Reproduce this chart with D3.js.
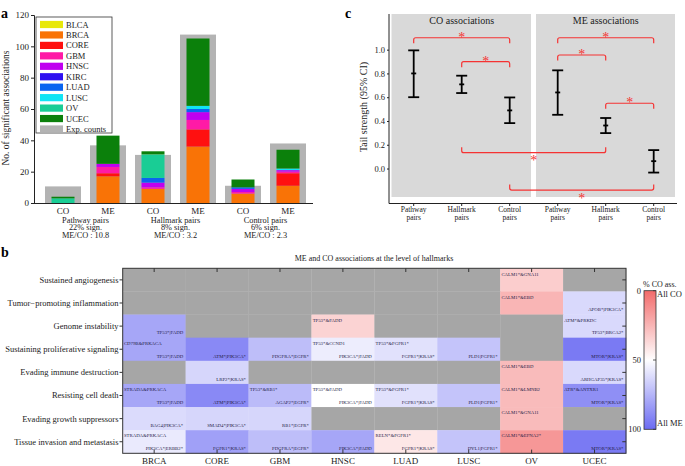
<!DOCTYPE html>
<html><head><meta charset="utf-8">
<script src="https://cdn.jsdelivr.net/npm/d3@7"></script>
<style>body{margin:0;background:#fff}svg{display:block}text{font-family:"Liberation Serif","DejaVu Serif",serif}</style>
</head><body><svg id="c" width="685" height="466"></svg>
<script>
// ---------- Panel a data ----------
const barGroups = ["PW-CO","PW-ME","HM-CO","HM-ME","CT-CO","CT-ME"];
const barTickLabels = ["CO","ME","CO","ME","CO","ME"];
const pairLabels = [["Pathway pairs","22% sign.","ME/CO : 10.8"],["Hallmark pairs","8% sign.","ME/CO : 3.2"],["Control pairs","6% sign.","ME/CO : 2.3"]];
const cancers = ["BLCA","BRCA","CORE","GBM","HNSC","KIRC","LUAD","LUSC","OV","UCEC"];
const cancerColors = ["#e8e80a","#f97306","#ff1010","#ff1aa6","#c000f0","#3010f0","#0a64f0","#10e4f4","#19cd95","#0b800b"];
const countsBLCA = [0,0,0,0,0,0];
const countsBRCA = [0,17,9,36,6,11];
const countsCORE = [0,2,0,11,0,8];
const countsGBM  = [0,4,1,6,1,1];
const countsHNSC = [0,2,3,5,2,1];
const countsKIRC = [0,0,0,0,0,0];
const countsLUAD = [0,0,3,2,1,0];
const countsLUSC = [0,0,0,2,0,1];
const countsOV   = [3,0,15,0,0,0];
const countsUCEC = [1,18,2,43,5,12];
const expCounts  = [10.6,36.8,30.7,107.5,11,38];
const yTicksA = [0,20,40,60,80,100,120];

// ---------- Panel b data ----------
const hbCancers = ["BRCA","CORE","GBM","HNSC","LUAD","LUSC","OV","UCEC"];
const hallmarks = ["Sustained angiogenesis","Tumor\u2212promoting inflammation","Genome instability","Sustaining proliferative signaling","Evading immune destruction","Resisting cell death","Evading growth suppressors","Tissue invasion and metastasis"];
const heatValues = [
 [null,null,null,null,null,null,33,null],
 [null,null,null,null,null,null,25,63],
 [80,null,null,35,null,null,null,63],
 [80,90,72,56,60,70,null,95],
 [null,64,null,null,null,null,27,63],
 [80,90,73,50,60,70,27,88],
 [62,64,64,null,null,null,27,null],
 [57,82,72,80,42,70,15,95]
];
const coLabels = [
 ["","","","","","","CALM1*&GNA11",""],
 ["","","","","","","CALM1*&EBD",""],
 ["","","","TP53*&FADD","","","","ATM*&PRKDC"],
 ["CD79B&PRKACA","","","TP53*&CCND1","TP53*&FGFR1*","","",""],
 ["","","","","","","CALM1*&EBD",""],
 ["STRADA&PRKACA","","TP53*&RB1*","TP53*&FADD","TP53*&FGFR1*","","CALM1*&LMNB2","ATR*&ANTXR1"],
 ["","","","","","","CALM1*&GNA11",""],
 ["STRADA&PRKACA","","","","RELN*&FGFR1*","","CALM1*&EFNA2*",""]
];
const meLabels = [
 ["","","","","","","",""],
 ["","","","","","","","APOB*|PIK3CA*"],
 ["TP53*|FADD","","","","","","","TP53*|BRCA2*"],
 ["TP53*|FADD","ATM*|PIK3CA*","PDGFRA*|EGFR*","PIK3CA*|FADD","FGFR1*|KRAS*","PLD1|FGFR1*","","MTOR*|KRAS*"],
 ["","LRP2*|KRAS*","","","","","","ARHGAP35*|KRAS*"],
 ["TP53*|FADD","ATM*|PIK3CA*","AGAP2*|EGFR*","PIK3CA*|FADD","FGFR1*|KRAS*","PLD1|FGFR1*","","MTOR*|KRAS*"],
 ["BAG4|PIK3CA*","SMAD4*|PIK3CA*","RB1*|EGFR*","","","","",""],
 ["PIK3CA*|ERBB2*","FGFR1*|KRAS*","PDGFRA*|EGFR*","PIK3CA*|FADD","FGFR1*|KRAS*","DYL1|FGFR1*","","MTOR*|KRAS*"]
];
const colorbarTicks = [0,50,100];

// ---------- Panel c data ----------
const tsKeys = ["CO-PW","CO-HM","CO-CT","ME-PW","ME-HM","ME-CT"];
const tsLabels = [["Pathway","pairs"],["Hallmark","pairs"],["Control","pairs"],["Pathway","pairs"],["Hallmark","pairs"],["Control","pairs"]];
const tsMean = [0.80,0.708,0.489,0.64,0.362,0.062];
const tsLow  = [0.60,0.635,0.382,0.452,0.298,-0.034];
const tsHigh = [0.994,0.781,0.598,0.826,0.425,0.155];
const yTicksC = [0,0.2,0.4,0.6,0.8,1.0];
const brFrom = [0,1,3,3,4,1,2];
const brTo   = [2,2,5,4,5,4,5];
const brY    = [1.10,0.899,1.10,0.955,0.549,0.133,-0.181];
const brDir  = [1,1,1,1,1,-1,-1];

const svg = d3.select("#c");
const INK = "#222";

// ================= PANEL A =================
{
  const y = d3.scaleLinear().domain([0,120]).range([203,15]);
  const x = d3.scalePoint().domain(barGroups).range([63,288]);
  const g = svg.append("g");
  const arrs = [countsBLCA,countsBRCA,countsCORE,countsGBM,countsHNSC,countsKIRC,countsLUAD,countsLUSC,countsOV,countsUCEC];
  const table = barGroups.map((b,i)=>{
    const o = {group:b};
    cancers.forEach((c,j)=>o[c]=arrs[j][i]);
    return o;
  });
  g.selectAll("rect.exp").data(barGroups).join("rect")
    .attr("x",d=>x(d)-18).attr("width",36)
    .attr("y",(d,i)=>y(expCounts[i])).attr("height",(d,i)=>y(0)-y(expCounts[i]))
    .attr("fill","#b3b3b3");
  const stack = d3.stack().keys(cancers)(table);
  g.selectAll("g.layer").data(stack).join("g").attr("fill",(d,i)=>cancerColors[i])
    .selectAll("rect").data(d=>d).join("rect")
    .attr("x",d=>x(d.data.group)-11.5).attr("width",23)
    .attr("y",d=>y(d[1])).attr("height",d=>Math.max(0,y(d[0])-y(d[1])));
  const ya = d3.axisLeft(y).tickValues(yTicksA).tickSize(3).tickPadding(2);
  const ag = g.append("g").attr("transform","translate(34,0)").call(ya);
  ag.select(".domain").attr("stroke",INK);
  ag.selectAll("line").attr("stroke",INK);
  ag.selectAll("text").attr("font-size",9).attr("fill",INK).style("font-family","Liberation Serif");
  g.append("line").attr("x1",34).attr("x2",313).attr("y1",203.5).attr("y2",203.5).attr("stroke",INK);
  g.selectAll("text.xt").data(barGroups).join("text")
    .attr("x",d=>x(d)).attr("y",214).attr("text-anchor","middle").attr("font-size",9).attr("fill",INK)
    .text((d,i)=>barTickLabels[i]);
  pairLabels.forEach((lines,k)=>{
    const cx = (x(barGroups[2*k])+x(barGroups[2*k+1]))/2;
    lines.forEach((t,j)=>g.append("text").attr("x",cx).attr("y",222.5+j*7.5).attr("text-anchor","middle")
      .attr("font-size",8.3).attr("fill",INK).text(t));
  });
  g.append("text").attr("transform","translate(9,108) rotate(-90)").attr("text-anchor","middle")
    .attr("font-size",9.5).attr("fill",INK).text("No. of significant associations");
  g.append("text").attr("x",1).attr("y",18).attr("font-size",14).attr("font-weight","bold").text("a");
  const lg = g.append("g");
  lg.append("rect").attr("x",36).attr("y",17).attr("width",76).attr("height",116).attr("fill","#fff").attr("stroke","#333").attr("stroke-width",0.8);
  const items = cancers.map((c,i)=>({name:c,color:cancerColors[i]})).concat([{name:"Exp. counts",color:"#b3b3b3"}]);
  items.forEach((it,i)=>{
    const cy = 24.5+i*10.45;
    lg.append("rect").attr("x",40).attr("y",cy-3.6).attr("width",23).attr("height",7.2).attr("fill",it.color);
    lg.append("text").attr("x",66).attr("y",cy+3).attr("font-size",8.5).attr("fill",INK).text(it.name);
  });
}

// ================= PANEL C =================
{
  const g = svg.append("g");
  const y = d3.scaleLinear().domain([-0.29,1.3]).range([203,14]);
  const x = d3.scalePoint().domain(tsKeys).range([413.7,653.7]);
  g.append("rect").attr("x",391.5).attr("y",14).attr("width",139.5).attr("height",183).attr("fill","#d9d9d9");
  g.append("rect").attr("x",536).attr("y",14).attr("width",139).attr("height",183).attr("fill","#d9d9d9");
  g.append("text").attr("x",461.7).attr("y",24).attr("text-anchor","middle").attr("font-size",10).attr("fill",INK).text("CO associations");
  g.append("text").attr("x",605.7).attr("y",24).attr("text-anchor","middle").attr("font-size",10).attr("fill",INK).text("ME associations");
  const ya = d3.axisLeft(y).tickValues(yTicksC).tickFormat(d3.format(".1f")).tickSize(2).tickPadding(2);
  const ag = g.append("g").attr("transform","translate(389,0)").call(ya);
  ag.select(".domain").remove();
  ag.selectAll("line").attr("stroke",INK);
  ag.selectAll("text").attr("font-size",8.5).attr("fill",INK).style("font-family","Liberation Serif");
  g.append("line").attr("x1",389).attr("x2",389).attr("y1",14).attr("y2",203.5).attr("stroke",INK);
  g.append("line").attr("x1",389).attr("x2",677).attr("y1",203.5).attr("y2",203.5).attr("stroke",INK);
  g.selectAll("line.xt").data(tsKeys).join("line").attr("x1",d=>x(d)).attr("x2",d=>x(d)).attr("y1",203.5).attr("y2",206).attr("stroke",INK);
  tsKeys.forEach((k,i)=>{
    tsLabels[i].forEach((t,j)=>g.append("text").attr("x",x(k)).attr("y",211.5+j*8).attr("text-anchor","middle").attr("font-size",7.5).attr("fill",INK).text(t));
  });
  g.append("text").attr("transform","translate(367,107) rotate(-90)").attr("text-anchor","middle").attr("font-size",10).attr("fill",INK).text("Tail strength (95% CI)");
  g.append("text").attr("x",345).attr("y",18).attr("font-size",14).attr("font-weight","bold").text("c");
  tsKeys.forEach((k,i)=>{
    const cx = x(k);
    g.append("line").attr("x1",cx).attr("x2",cx).attr("y1",y(tsHigh[i])).attr("y2",y(tsLow[i])).attr("stroke","#000").attr("stroke-width",1.8);
    [tsHigh[i],tsLow[i]].forEach(v=>g.append("line").attr("x1",cx-5.5).attr("x2",cx+5.5).attr("y1",y(v)).attr("y2",y(v)).attr("stroke","#000").attr("stroke-width",1.8));
    g.append("line").attr("x1",cx-2.5).attr("x2",cx+2.5).attr("y1",y(tsMean[i])).attr("y2",y(tsMean[i])).attr("stroke","#000").attr("stroke-width",1.8);
  });
  const RED = "#f53333";
  brFrom.forEach((f,i)=>{
    const x1 = x(tsKeys[f]), x2 = x(tsKeys[brTo[i]]);
    const yy = y(brY[i]); const d = brDir[i]; const h = 5.5; const r = 2;
    const p = `M${x1},${yy+d*h} L${x1},${yy+d*r} Q${x1},${yy} ${x1+r},${yy} L${x2-r},${yy} Q${x2},${yy} ${x2},${yy+d*r} L${x2},${yy+d*h}`;
    g.append("path").attr("d",p).attr("fill","none").attr("stroke",RED).attr("stroke-width",1.2);
    g.append("text").attr("x",(x1+x2)/2).attr("y",d>0?yy+4:yy+12.5).attr("text-anchor","middle").attr("font-size",14).attr("font-family","DejaVu Sans").attr("fill",RED).text("*");
  });
}

// ================= PANEL B =================
{
  const g = svg.append("g");
  const x = d3.scaleBand().domain(hbCancers).range([122.7,626]);
  const y = d3.scaleBand().domain(hallmarks).range([268.3,453.3]);
  const color = d3.scaleLinear().domain([0,50,100]).range(["#f26b6b","#ffffff","#6b6bf2"]);
  const cells = [];
  hallmarks.forEach((h,r)=>hbCancers.forEach((c,k)=>cells.push({h,c,v:heatValues[r][k],co:coLabels[r][k],me:meLabels[r][k]})));
  g.selectAll("rect.cell").data(cells).join("rect")
    .attr("x",d=>x(d.c)).attr("y",d=>y(d.h)).attr("width",x.bandwidth()+0.3).attr("height",y.bandwidth()+0.3)
    .attr("fill",d=>d.v==null?"#a6a6a6":color(d.v));
  g.selectAll("text.co").data(cells.filter(d=>d.co)).join("text")
    .attr("x",d=>x(d.c)+1.2).attr("y",d=>y(d.h)+7.2).attr("font-size",4.8).attr("fill","#241c48").text(d=>d.co);
  g.selectAll("text.me").data(cells.filter(d=>d.me)).join("text")
    .attr("x",d=>x(d.c)+x.bandwidth()-2.5).attr("y",d=>y(d.h)+y.bandwidth()-3.2).attr("text-anchor","end")
    .attr("font-size",4.8).attr("fill","#241c48").text(d=>d.me);
  g.append("rect").attr("x",122.7).attr("y",268.3).attr("width",503.3).attr("height",185).attr("fill","none").attr("stroke","#333").attr("stroke-width",1);
  hbCancers.forEach(c=>{
    const cx = x(c)+x.bandwidth()/2;
    g.append("line").attr("x1",cx).attr("x2",cx).attr("y1",268.3).attr("y2",272).attr("stroke","#333");
    g.append("line").attr("x1",cx).attr("x2",cx).attr("y1",453.3).attr("y2",449.6).attr("stroke","#333");
    g.append("text").attr("x",cx).attr("y",463.5).attr("text-anchor","middle").attr("font-size",9).attr("fill",INK).text(c);
  });
  hallmarks.forEach(h=>{
    const cy = y(h)+y.bandwidth()/2;
    g.append("line").attr("x1",119.5).attr("x2",122.7).attr("y1",cy).attr("y2",cy).attr("stroke","#333");
    g.append("line").attr("x1",626).attr("x2",622.3).attr("y1",cy).attr("y2",cy).attr("stroke","#333");
    g.append("text").attr("x",118.5).attr("y",cy+3).attr("text-anchor","end").attr("font-size",8.5).attr("fill",INK).text(h);
  });
  g.append("text").attr("x",374).attr("y",261).attr("text-anchor","middle").attr("font-size",8).attr("fill",INK).text("ME and CO associations at the level of hallmarks");
  g.append("text").attr("x",1).attr("y",257).attr("font-size",14).attr("font-weight","bold").text("b");
  const defs = svg.append("defs");
  const grad = defs.append("linearGradient").attr("id","cb").attr("x1",0).attr("x2",0).attr("y1",0).attr("y2",1);
  d3.range(0,101,10).forEach(v=>grad.append("stop").attr("offset",v+"%").attr("stop-color",color(v)));
  const cbY = d3.scaleLinear().domain([0,100]).range([290.7,429.3]);
  g.append("rect").attr("x",644).attr("y",cbY(0)).attr("width",12).attr("height",cbY(100)-cbY(0)).attr("fill","url(#cb)").attr("stroke","#333").attr("stroke-width",0.8);
  colorbarTicks.forEach(v=>{
    g.append("text").attr("x",641).attr("y",cbY(v)+3).attr("text-anchor","end").attr("font-size",8.5).attr("fill",INK).text(v);
    g.append("line").attr("x1",653).attr("x2",656).attr("y1",cbY(v)).attr("y2",cbY(v)).attr("stroke","#333").attr("stroke-width",0.8);
  });
  g.append("text").attr("x",643).attr("y",287).attr("font-size",8).attr("fill",INK).text("% CO ass.");
  g.append("text").attr("x",657).attr("y",297).attr("font-size",8.5).attr("fill",INK).text("All CO");
  g.append("text").attr("x",657).attr("y",426).attr("font-size",8.5).attr("fill",INK).text("All ME");
}
</script></body></html>
